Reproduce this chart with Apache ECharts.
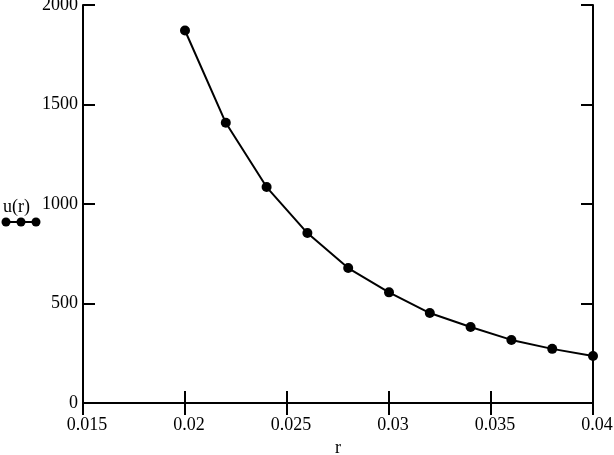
<!DOCTYPE html>
<html>
<head>
<meta charset="utf-8">
<script src="https://cdn.jsdelivr.net/npm/echarts@6/dist/echarts.min.js"></script>
<style>html,body{margin:0;padding:0;background:#fff}#c{width:614px;height:455px}</style>
</head>
<body>
<div id="c"></div>
<script>
var rValues = [0.020, 0.022, 0.024, 0.026, 0.028, 0.030, 0.032, 0.034, 0.036, 0.038, 0.040];
var uValues = [1872, 1408, 1085, 854, 678, 556, 452, 382, 317, 272, 236];
var seriesName = 'u(r)';
var xAxisName = 'r';

var data = rValues.map(function (r, i) { return [r, uValues[i]]; });
var font = 'Liberation Serif';
var chart = echarts.init(document.getElementById('c'), null, {renderer: 'canvas'});
var axisLine = {show: true, lineStyle: {color: '#000', width: 2}};
var tick = {show: true, inside: true, length: 12, lineStyle: {color: '#000', width: 2}};
chart.setOption({
  animation: false,
  backgroundColor: '#fff',
  grid: {left: 83, right: 21, top: 5, bottom: 52, containLabel: false, outerBoundsMode: 'none'},
  graphic: [
    {type: 'text', left: 3, top: 198, style: {text: seriesName, font: '18px "Liberation Serif"', fill: '#000'}},
    {type: 'line', shape: {x1: 3, y1: 222, x2: 40, y2: 222}, style: {stroke: '#000', lineWidth: 2}},
    {type: 'circle', shape: {cx: 6, cy: 222, r: 4.5}, style: {fill: '#000'}},
    {type: 'circle', shape: {cx: 21, cy: 222, r: 4.5}, style: {fill: '#000'}},
    {type: 'circle', shape: {cx: 36, cy: 222, r: 4.5}, style: {fill: '#000'}}
  ],
  xAxis: [{
    type: 'value', min: 0.015, max: 0.04, interval: 0.005,
    name: xAxisName, nameLocation: 'middle', nameGap: 36,
    nameTextStyle: {fontFamily: font, fontSize: 18, color: '#000'},
    axisLine: axisLine, axisTick: tick, splitLine: {show: false},
    axisLabel: {fontFamily: font, fontSize: 18, color: '#000', margin: 13, padding: [0, 0, 0, 8], showMinLabel: true, showMaxLabel: true,
      formatter: function (v) { return String(+v.toFixed(4)); }}
  }, {
    type: 'value', position: 'top', min: 0.015, max: 0.04, interval: 0.005,
    axisLine: axisLine, axisTick: tick, axisLabel: {show: false}, splitLine: {show: false}
  }],
  yAxis: [{
    type: 'value', min: 0, max: 2000, interval: 500,
    axisLine: axisLine, axisTick: tick, splitLine: {show: false},
    axisLabel: {fontFamily: font, fontSize: 18, color: '#000', margin: 5, padding: [0, 0, 3, 0],
      formatter: function (v) { return String(v); }}
  }, {
    type: 'value', position: 'right', min: 0, max: 2000, interval: 500,
    axisLine: axisLine, axisTick: tick, axisLabel: {show: false}, splitLine: {show: false}
  }],
  series: [{
    name: seriesName, type: 'line', data: data,
    symbol: 'circle', symbolSize: 10,
    lineStyle: {color: '#000', width: 2},
    itemStyle: {color: '#000'}
  }]
});
</script>
</body>
</html>
